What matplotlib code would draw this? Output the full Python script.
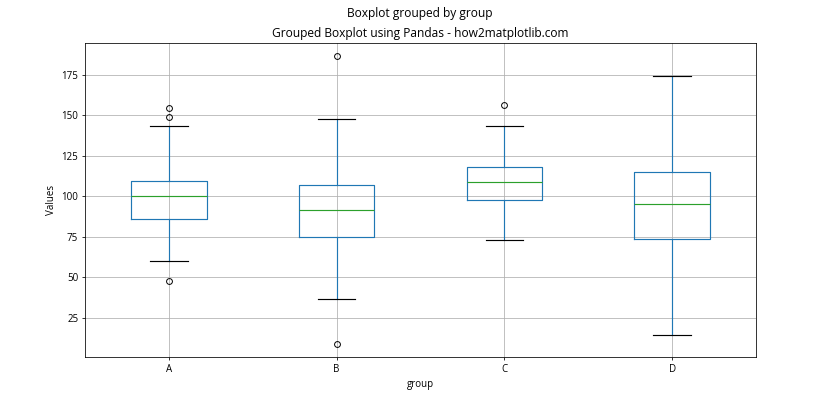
import matplotlib
matplotlib.use("Agg")
import matplotlib.pyplot as plt

plt.rcParams['font.family'] = ['Open Sans', 'DejaVu Sans']

groups = ["A", "B", "C", "D"]
q1 = [86.1, 75.0, 97.9, 73.8]
medians = [100.0, 91.7, 109.1, 95.5]
q3 = [109.5, 107.2, 118.4, 115.3]
whislo = [60.1, 36.6, 73.1, 14.3]
whishi = [143.8, 148.1, 143.8, 174.4]
fliers = [[154.4, 149.2, 47.7], [186.8, 8.7], [156.2], []]

stats = []
for i, g in enumerate(groups):
    stats.append(dict(label=g, q1=q1[i], med=medians[i], q3=q3[i],
                      whislo=whislo[i], whishi=whishi[i], fliers=fliers[i]))

fig = plt.figure(figsize=(12, 6), dpi=70)
ax = fig.add_axes([85/840, 1-357.3/420, (756-85)/840, (357.3-42.7)/420])

blue = '#1f77b4'
ax.bxp(stats, positions=[1, 2, 3, 4], widths=0.45,
       boxprops=dict(color=blue, linewidth=1.2),
       whiskerprops=dict(color=blue, linewidth=1.2),
       capprops=dict(color='black', linewidth=1.2),
       medianprops=dict(color='#2ca02c', linewidth=1.2),
       flierprops=dict(marker='o', markerfacecolor='none', markeredgecolor='black'))
ax.set_xlim(0.5, 4.5)
ax.set_ylim(0.5, 195)
ax.set_yticks([25, 50, 75, 100, 125, 150, 175])
ax.grid(True, color='#b0b0b0', zorder=0)
ax.set_axisbelow(True)
ax.set_xlabel("group")
ax.set_ylabel("Values")
ax.set_title("Grouped Boxplot using Pandas - how2matplotlib.com", fontsize=12.4)
fig.suptitle("Boxplot grouped by group", fontsize=12.4, y=0.983)

fig.savefig("out.png", dpi=70)
